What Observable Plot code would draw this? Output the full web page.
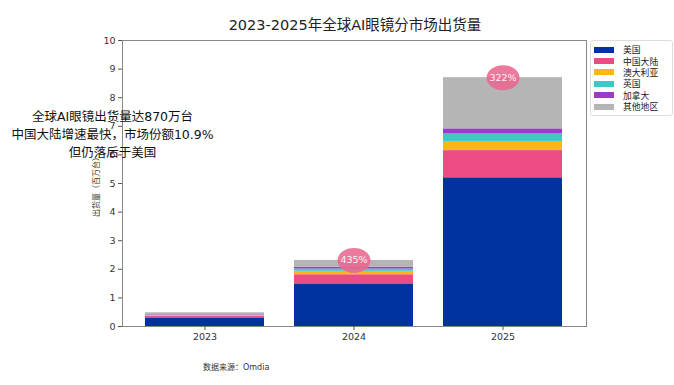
<!DOCTYPE html>
<html>
<head>
<meta charset="utf-8">
<script src="https://cdn.jsdelivr.net/npm/d3@7"></script>
<script src="https://cdn.jsdelivr.net/npm/@observablehq/plot@0.6"></script>
<style>
  html, body { margin: 0; padding: 0; background: #fff; }
  #wrap { position: relative; width: 674px; height: 385px; overflow: hidden;
    font-family: "DejaVu Sans", "Noto Sans CJK SC", sans-serif; color: #222; }
  .abs { position: absolute; white-space: nowrap; }
  #title { left: 0; width: 710px; top: 13px; text-align: center; font-size: 14.5px; color: #222; }
  #note { left: 0; width: 225px; top: 108px; text-align: center; font-size: 12.5px; line-height: 18px; color: #111; }
  #ylab { left: 95px; top: 185px; transform: translate(-50%, -50%) rotate(-90deg); font-size: 8px; color: #333; }
  #src { left: 203px; top: 361px; font-size: 8px; color: #333; }
  #legend { left: 590px; top: 40px; width: 81px; border: 1px solid #ddd; border-radius: 3px;
    padding: 3px 0 3px 0; font-size: 8.8px; background: #fff; }
  .li { display: flex; align-items: center; height: 11.4px; }
  .sw { width: 20px; height: 6px; margin: 0 9px 0 3px; }
</style>
</head>
<body>
<div id="wrap"></div>
<script>
const years = ["2023", "2024", "2025"];
const regions = ["美国", "中国大陆", "澳大利亚", "英国", "加拿大", "其他地区"];
const colors = ["#0033a0", "#ec4c84", "#ffb614", "#3ec9c9", "#9a3bc9", "#b5b5b5"];
const usa       = [0.30, 1.49, 5.20];
const china     = [0.05, 0.32, 0.95];
const australia = [0.02, 0.12, 0.32];
const uk        = [0.02, 0.08, 0.26];
const canada    = [0.02, 0.06, 0.18];
const others    = [0.07, 0.24, 1.79];
const growthLabels = ["", "435%", "322%"];
const yTicks = [0, 1, 2, 3, 4, 5, 6, 7, 8, 9, 10];
const titleText = "2023-2025年全球AI眼镜分市场出货量";
const noteLines = ["全球AI眼镜出货量达870万台", "中国大陆增速最快，市场份额10.9%", "但仍落后于美国"];
const yLabelText = "出货量（百万台）";
const sourceText = "数据来源：Omdia";

const series = [usa, china, australia, uk, canada, others];
const data = [];
years.forEach((yr, i) => regions.forEach((r, j) => data.push({year: yr, region: r, value: series[j][i]})));
const totals = years.map((yr, i) => ({year: yr, total: d3.sum(series, s => s[i]), label: growthLabels[i]}))
  .filter(d => d.label);

// ellipse symbol
const ellipse = {
  draw(ctx, size) {
    const rx = 16.5, ry = 12.5, k = 0.5523;
    ctx.moveTo(rx, 0);
    ctx.bezierCurveTo(rx, ry * k, rx * k, ry, 0, ry);
    ctx.bezierCurveTo(-rx * k, ry, -rx, ry * k, -rx, 0);
    ctx.bezierCurveTo(-rx, -ry * k, -rx * k, -ry, 0, -ry);
    ctx.bezierCurveTo(rx * k, -ry, rx, -ry * k, rx, 0);
    ctx.closePath();
  }
};

const chart = Plot.plot({
  width: 674, height: 385,
  marginTop: 40, marginBottom: 59, marginLeft: 122, marginRight: 88,
  style: {fontFamily: '"DejaVu Sans", "Noto Sans CJK SC", sans-serif', background: "transparent"},
  x: {domain: years, paddingInner: 0.2, paddingOuter: 0.147, label: null},
  y: {domain: [0, 10], label: null},
  color: {domain: regions, range: colors},
  marks: [
    Plot.barY(data, {x: "year", y: "value", fill: "region"}),
    Plot.dot(totals, {x: "year", y: "total", symbol: ellipse, r: 5, fill: "#e9688f", fillOpacity: 0.88, stroke: null}),
    Plot.text(totals, {x: "year", y: "total", text: "label", fill: "#fff", fontSize: 9.5, fillOpacity: 0.9}),
    Plot.frame({stroke: "#888", strokeWidth: 1}),
    Plot.axisY({ticks: yTicks, tickSize: 4, tickPadding: 3, fontSize: 9.5, label: null, stroke: "#555", fill: "#333"}),
    Plot.axisX({tickSize: 4, tickPadding: 3, fontSize: 9.5, label: null, stroke: "#555", fill: "#333"})
  ]
});

const wrap = document.getElementById("wrap");
wrap.appendChild(chart);

function addDiv(id, html) {
  const d = document.createElement("div");
  d.id = id; d.className = "abs"; d.innerHTML = html;
  wrap.appendChild(d);
  return d;
}
addDiv("title", titleText);
addDiv("note", noteLines.join("<br>"));
addDiv("ylab", yLabelText);
addDiv("src", sourceText);
addDiv("legend", regions.map((r, i) =>
  `<div class="li"><span class="sw" style="background:${colors[i]}"></span><span>${r}</span></div>`).join(""));
</script>
</body>
</html>
